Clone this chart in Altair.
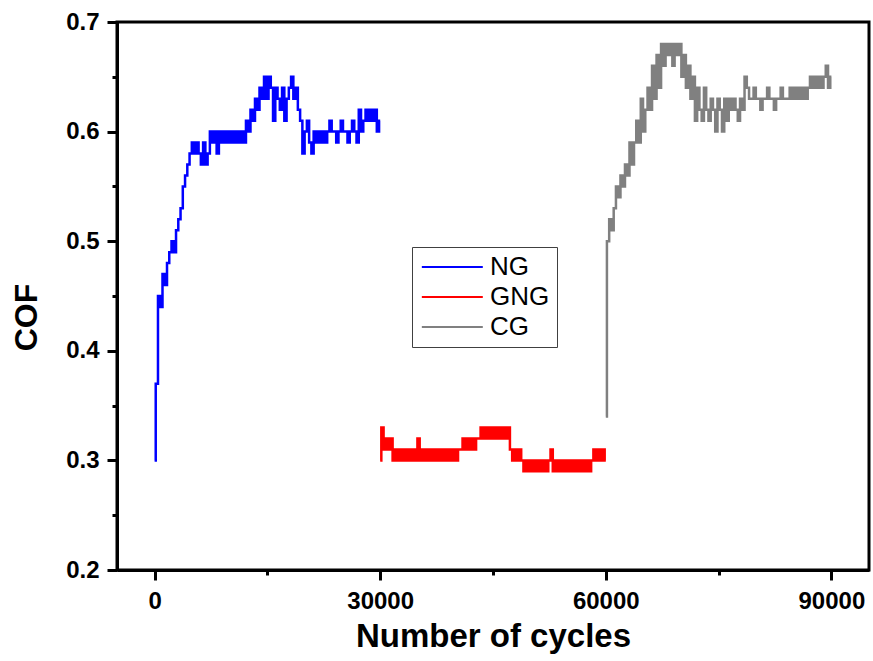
import altair as alt
import pandas as pd

# Coefficient of friction against number of cycles, sampled every 300 cycles
STEP = 300
SAMPLES = ["NG", "GNG", "CG"]
COLORS = ["#0000FF", "#FF0000", "#808080"]
STARTS = [0, 30000, 60000]

NG_COF = [
    0.30, 0.37, 0.45, 0.44, 0.47, 0.46, 0.48, 0.49, 0.50, 0.49,
    0.51, 0.52, 0.53, 0.55, 0.56, 0.57, 0.58, 0.59, 0.58, 0.59,
    0.58, 0.57, 0.59, 0.57, 0.58, 0.60, 0.59, 0.60, 0.58, 0.60,
    0.59, 0.60, 0.59, 0.60, 0.59, 0.60, 0.59, 0.60, 0.59, 0.60,
    0.59, 0.61, 0.60, 0.62, 0.61, 0.63, 0.62, 0.64, 0.63, 0.65,
    0.63, 0.65, 0.64, 0.61, 0.64, 0.63, 0.62, 0.64, 0.61, 0.63,
    0.64, 0.65, 0.63, 0.64, 0.62, 0.61, 0.58, 0.60, 0.61, 0.59,
    0.58, 0.60, 0.59, 0.60, 0.59, 0.60, 0.59, 0.60, 0.61, 0.60,
    0.60, 0.59, 0.60, 0.61, 0.60, 0.60, 0.59, 0.60, 0.61, 0.60,
    0.59, 0.62, 0.60, 0.61, 0.62, 0.61, 0.62, 0.61, 0.62, 0.60,
    0.61,
]

GNG_COF = [
    0.30, 0.33, 0.31, 0.32, 0.31, 0.32, 0.30, 0.31, 0.30, 0.31,
    0.30, 0.31, 0.30, 0.31, 0.30, 0.31, 0.30, 0.32, 0.30, 0.31,
    0.30, 0.31, 0.30, 0.31, 0.30, 0.31, 0.30, 0.31, 0.30, 0.31,
    0.30, 0.31, 0.30, 0.31, 0.30, 0.31, 0.31, 0.32, 0.31, 0.32,
    0.31, 0.32, 0.31, 0.32, 0.32, 0.33, 0.32, 0.33, 0.32, 0.33,
    0.32, 0.33, 0.32, 0.33, 0.32, 0.33, 0.32, 0.33, 0.31, 0.30,
    0.31, 0.30, 0.31, 0.30, 0.29, 0.30, 0.29, 0.30, 0.29, 0.30,
    0.29, 0.30, 0.29, 0.30, 0.29, 0.30, 0.31, 0.29, 0.30, 0.29,
    0.30, 0.29, 0.30, 0.29, 0.30, 0.29, 0.30, 0.29, 0.30, 0.29,
    0.30, 0.29, 0.30, 0.29, 0.30, 0.31, 0.30, 0.31, 0.30, 0.31,
    0.30,
]

CG_COF = [
    0.34, 0.50, 0.52, 0.51, 0.53, 0.55, 0.54, 0.56, 0.55, 0.57,
    0.56, 0.59, 0.57, 0.59, 0.61, 0.59, 0.63, 0.60, 0.62, 0.64,
    0.62, 0.66, 0.63, 0.67, 0.64, 0.68, 0.66, 0.68, 0.67, 0.68,
    0.66, 0.68, 0.67, 0.68, 0.65, 0.67, 0.64, 0.66, 0.63, 0.65,
    0.61, 0.64, 0.62, 0.61, 0.64, 0.62, 0.61, 0.63, 0.62, 0.60,
    0.63, 0.62, 0.60, 0.63, 0.61, 0.63, 0.62, 0.63, 0.62, 0.61,
    0.63, 0.62, 0.65, 0.64, 0.63, 0.63, 0.64, 0.63, 0.63, 0.62,
    0.63, 0.63, 0.64, 0.63, 0.63, 0.62, 0.63, 0.63, 0.64, 0.63,
    0.63, 0.63, 0.64, 0.63, 0.64, 0.63, 0.64, 0.63, 0.64, 0.63,
    0.64, 0.65, 0.64, 0.65, 0.64, 0.65, 0.64, 0.65, 0.66, 0.64,
    0.65,
]

X_TICKS = [0, 30000, 60000, 90000]
X_MINOR = [15000, 45000, 75000]
Y_TICKS = [0.2, 0.3, 0.4, 0.5, 0.6, 0.7]
Y_MINOR = [0.25, 0.35, 0.45, 0.55, 0.65]

rows = []
for name, start, values in zip(SAMPLES, STARTS, [NG_COF, GNG_COF, CG_COF]):
    for i, v in enumerate(values):
        rows.append({"sample": name, "cycles": start + i * STEP, "cof": v})
df = pd.DataFrame(rows)

FONT = "Liberation Sans"
x_scale = alt.Scale(domain=[-5000, 95000], nice=False, zero=False)
y_scale = alt.Scale(domain=[0.2, 0.7], nice=False, zero=False)

axis_common = dict(
    domainColor="black", domainWidth=3,
    tickColor="black", tickWidth=3,
    grid=False,
)

lines = alt.Chart(df).mark_line(
    strokeWidth=2.5, clip=True, interpolate="step"
).encode(
    x=alt.X("cycles:Q", scale=x_scale, axis=alt.Axis(
        values=X_TICKS, format="d", orient="bottom",
        title="Number of cycles", titleFont=FONT, titleFontSize=33,
        titleFontWeight="bold", titleColor="black",
        titleBaseline="alphabetic", titleY=76,
        labelFont=FONT, labelFontSize=24, labelFontWeight="bold",
        labelColor="black", labelPadding=9, tickSize=10,
        **axis_common,
    )),
    y=alt.Y("cof:Q", scale=y_scale, axis=alt.Axis(
        values=Y_TICKS, format=".1f", orient="left",
        title="COF", titleFont=FONT, titleFontSize=32,
        titleFontWeight="bold", titleColor="black",
        titleAngle=270, titleBaseline="middle", titleX=-91, titleY=295,
        labelFont=FONT, labelFontSize=24, labelFontWeight="bold",
        labelColor="black", labelPadding=8, tickSize=10,
        **axis_common,
    )),
    color=alt.Color("sample:N", scale=alt.Scale(domain=SAMPLES, range=COLORS),
        legend=alt.Legend(
            title=None, orient="none", legendX=295, legendY=225,
            symbolType="M-1,0H5", symbolSize=413, symbolStrokeWidth=2,
            labelFont=FONT, labelFontSize=26, labelColor="black",
            labelOffset=45, rowPadding=4, padding=7,
            strokeColor="#404040", fillColor="white",
        )),
)

# Minor ticks between the labelled ones
minor = alt.Chart(df).mark_point(opacity=0).encode(
    x=alt.X("cycles:Q", scale=x_scale, axis=alt.Axis(
        values=X_MINOR, orient="bottom", labels=False, title=None,
        domain=False, tickColor="black", tickWidth=3, tickSize=5, grid=False)),
    y=alt.Y("cof:Q", scale=y_scale, axis=alt.Axis(
        values=Y_MINOR, orient="left", labels=False, title=None,
        domain=False, tickColor="black", tickWidth=3, tickSize=5, grid=False)),
)

chart = alt.layer(minor, lines).resolve_axis(
    x="independent", y="independent"
).properties(
    width=752, height=548,
    autosize=alt.AutoSizeParams(type="none"),
    padding={"left": 117, "top": 22, "right": 4, "bottom": 91},
    background="white",
).configure_view(stroke="black", strokeWidth=3)

chart.save("out.html", embed_options={"renderer": "svg", "actions": False})
